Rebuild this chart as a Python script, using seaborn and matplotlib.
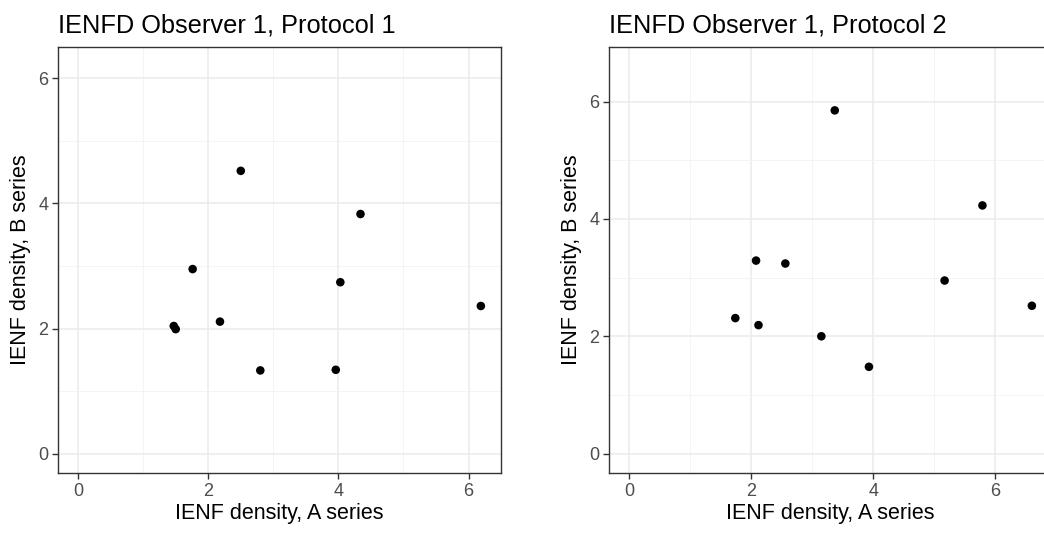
import matplotlib
matplotlib.use("Agg")
import matplotlib.pyplot as plt
import seaborn as sns
import pandas as pd
from matplotlib.ticker import MultipleLocator

# Data (IENF density, A series vs B series)
p1_a = [2.50, 4.34, 1.76, 4.03, 6.19, 2.18, 1.47, 1.50, 2.80, 3.96]
p1_b = [4.52, 3.83, 2.95, 2.74, 2.36, 2.11, 2.04, 1.99, 1.33, 1.34]

p2_a = [3.37, 5.79, 2.08, 2.56, 5.17, 6.60, 1.74, 2.12, 3.15, 3.93]
p2_b = [5.85, 4.23, 3.29, 3.24, 2.95, 2.52, 2.31, 2.19, 2.00, 1.48]

titles = ["IENFD Observer 1, Protocol 1", "IENFD Observer 1, Protocol 2"]
xlabel = "IENF density, A series"
ylabel = "IENF density, B series"

sns.set_theme(style="white")
plt.rcParams['font.family'] = ['Liberation Sans', 'DejaVu Sans']

fig = plt.figure(figsize=(10.44, 5.43), dpi=100)
W, H = 1044, 543
# panel boxes in pixels: left, top, right, bottom
boxes = [(58, 47, 501, 473), (609, 47, 1052, 473)]

panels = [(p1_a, p1_b), (p2_a, p2_b)]
for idx, (a, b) in enumerate(panels):
  l, t, r, btm = boxes[idx]
  ax = fig.add_axes([l / W, (H - btm) / H, (r - l) / W, (btm - t) / H])
  df = pd.DataFrame({"A": a, "B": b})
  sns.scatterplot(ax=ax, data=df, x="A", y="B", color="black", s=38,
                  edgecolor="none", zorder=3)

  # square limits including zero, with ggplot-style 5% expansion
  hi = max(max(a), max(b))
  pad = 0.05 * hi
  ax.set_xlim(-pad, hi + pad)
  ax.set_ylim(-pad, hi + pad)

  ax.xaxis.set_major_locator(MultipleLocator(2))
  ax.yaxis.set_major_locator(MultipleLocator(2))
  ax.xaxis.set_minor_locator(MultipleLocator(1))
  ax.yaxis.set_minor_locator(MultipleLocator(1))
  ax.grid(which="major", color="#EBEBEB", linewidth=1.1, zorder=0)
  ax.grid(which="minor", color="#F2F2F2", linewidth=0.6, zorder=0)
  ax.set_axisbelow(True)

  for sp in ax.spines.values():
    sp.set_color("#333333")
    sp.set_linewidth(1.0)

  ax.tick_params(which="major", length=4, width=1.0, color="#333333",
                 labelsize=13, labelcolor="#4D4D4D", pad=3,
                 bottom=True, left=True)
  ax.tick_params(which="minor", length=0)

  ax.set_xlabel(xlabel, fontsize=15.5, color="black", labelpad=2)
  ax.set_ylabel(ylabel, fontsize=15.5, color="black", labelpad=5)
  ax.set_title(titles[idx], loc="left", fontsize=18.3, color="black", pad=10.5)

fig.savefig("out.png", dpi=100)
